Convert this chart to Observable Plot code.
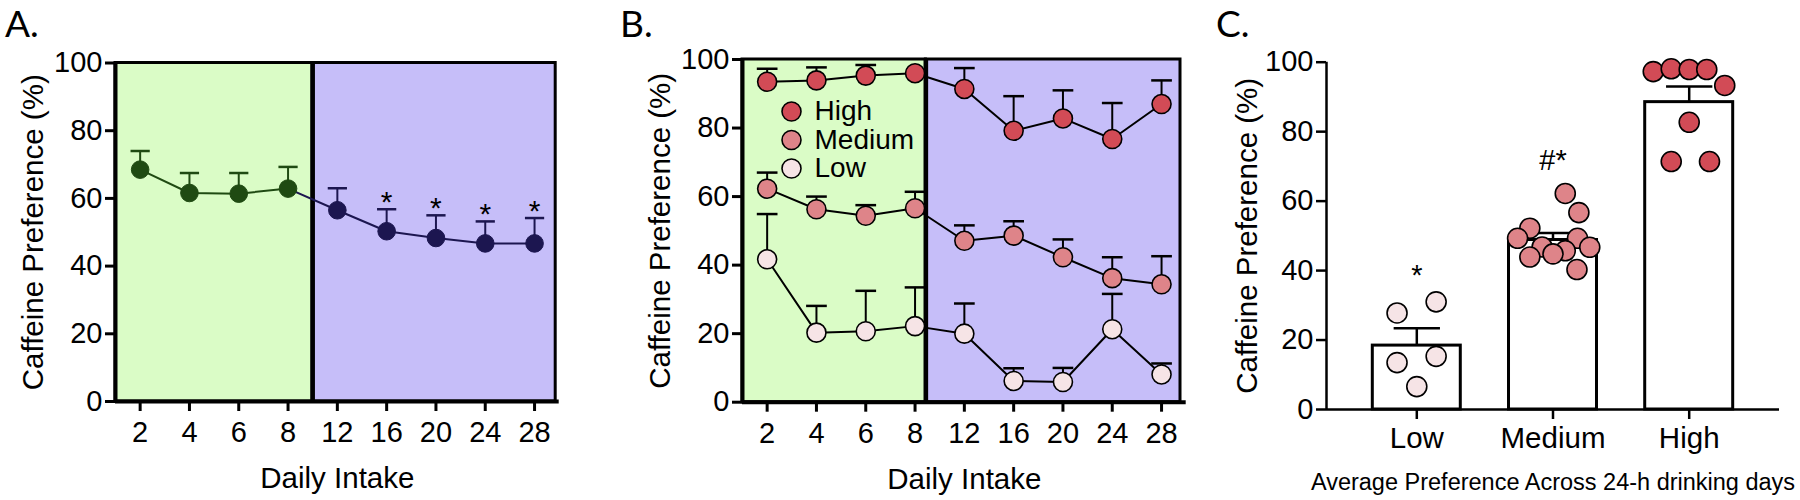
<!DOCTYPE html>
<html>
<head>
<meta charset="utf-8">
<script src="https://cdn.jsdelivr.net/npm/d3@7"></script>
<script src="https://cdn.jsdelivr.net/npm/@observablehq/plot@0.6"></script>
<style>
  html, body { margin: 0; padding: 0; background: #fff; }
  #wrap { position: relative; width: 1800px; height: 500px; overflow: hidden; background: #fff; }
  .panel { position: absolute; top: 0; width: 600px; height: 500px; }
  .panel svg { overflow: visible; }
  .tag { position: absolute; top: 4px; font-family: Lato, "Open Sans", sans-serif; font-size: 37px; line-height: 1; color: #000; }
</style>
</head>
<body>
<div id="wrap"></div>
<script>
// ---------------- data ----------------
const days = ["2", "4", "6", "8", "12", "16", "20", "24", "28"];
const yTicks = [0, 20, 40, 60, 80, 100];
const nAcq = 4; // first sessions (green background)

// Panel A: mean and top of SEM bar
const aMean = [68.5, 61.6, 61.4, 62.9, 56.5, 50.3, 48.3, 46.7, 46.7];
const aTop  = [74.0, 67.5, 67.5, 69.3, 63.0, 56.8, 55.0, 53.2, 54.2];
const aSig  = ["", "", "", "", "", "*", "*", "*", "*"];

// Panel B
const bGroups = ["High", "Medium", "Low"];
const bHigh    = [93.5, 93.9, 95.3, 96.0, 91.4, 79.2, 82.8, 76.8, 87.0];
const bHighTop = [97.3, 97.7, 98.4, null, 97.5, 89.3, 91.0, 87.3, 93.9];
const bMed     = [62.3, 56.3, 54.4, 56.6, 47.1, 48.6, 42.3, 36.2, 34.4];
const bMedTop  = [67.0, 60.0, 57.5, 61.4, 51.6, 52.8, 47.5, 42.3, 42.6];
const bLow     = [41.7, 20.3, 20.7, 22.2, 20.0, 6.2, 5.9, 21.3, 8.1];
const bLowTop  = [54.9, 28.1, 32.5, 33.5, 28.8, 9.9, 10.0, 31.6, 11.3];

// Panel C
const cGroups = ["Low", "Medium", "High"];
const cMean = [18.4, 48.8, 88.5];
const cTop  = [23.4, 50.8, 93.0];
const cNote = ["*", "#*", ""];
const cNoteBase = [35.8, 68.9, null];
const cLowVals  = [27.8, 31.0, 13.5, 15.3, 6.6];
const cLowOff   = [-0.145, 0.142, -0.145, 0.142, 0];
const cMedVals  = [62.2, 56.7, 52.2, 49.3, 49.3, 46.7, 46.8, 45.7, 44.8, 43.9, 40.3];
const cMedOff   = [0.09, 0.19, -0.17, -0.26, 0.18, 0.27, -0.08, 0.09, 0.0, -0.17, 0.176];
const cHighVals = [97.3, 98.1, 97.9, 97.9, 93.3, 82.7, 71.4, 71.4];
const cHighOff  = [-0.264, -0.132, 0, 0.129, 0.261, 0, -0.132, 0.149];

// ---------------- styles ----------------
const FONT = "'Liberation Sans', Arial, Helvetica, sans-serif";
const COL = {
  greenBg: "#dafcc6", purpleBg: "#c6bef9",
  green: "#1f4a12", navy: "#1c1650",
  High: "#d24b56", Medium: "#de8489", Low: "#f6e4e6"
};
const yLabel = "Caffeine Preference (%)";
const xLabel = "Daily Intake";
const cCaption = "Average Preference Across 24-h drinking days";

const idx = days.map((_, i) => i);
const xDom = [-0.5, days.length - 0.5];
const split = nAcq - 0.5;

function base(extra) {
  return Object.assign({
    width: 600, height: 500,
    style: {fontFamily: FONT, fontSize: "28px", background: "transparent", color: "#000", overflow: "visible"},
    color: {type: "identity"},
    y: {domain: [0, 100], axis: null},
  }, extra);
}

function backgroundMarks(shift, insetR) {
  const green = [{x1: xDom[0], x2: split + shift}];
  const purple = [{x1: split + shift, x2: xDom[1]}];
  return [
    Plot.rect(green, {x1: "x1", x2: "x2", y1: 0, y2: 100, fill: COL.greenBg, stroke: "black", strokeWidth: 3}),
    Plot.rect(purple, {x1: "x1", x2: "x2", y1: 0, y2: 100, fill: COL.purpleBg, stroke: "black", strokeWidth: 3, insetRight: insetR}),
    Plot.ruleX([split + shift], {y1: 0, y2: 100, stroke: "black", strokeWidth: 4.5})
  ];
}

function timeAxes(labelDx) {
  return [
    Plot.ruleX([xDom[0]], {y1: 0, y2: 100, stroke: "black", strokeWidth: 4}),
    Plot.ruleY([0], {stroke: "black", strokeWidth: 4}),
    Plot.axisY({ticks: yTicks, tickSize: 10, tickPadding: 3, strokeWidth: 3, label: null, fontSize: 29}),
    Plot.axisX({ticks: idx, tickFormat: i => days[i], tickSize: 10, tickPadding: 10, strokeWidth: 3, label: null, fontSize: 29}),
    Plot.text([yLabel], {frameAnchor: "left", rotate: -90, dx: -labelDx, fontSize: 29.5, textAnchor: "middle", lineAnchor: "middle"}),
    Plot.text([xLabel], {frameAnchor: "bottom", dy: 77, fontSize: 29.5, textAnchor: "middle", lineAnchor: "middle"})
  ];
}

// ---------------- Panel A ----------------
const dA = days.map((d, i) => ({i, mean: aMean[i], top: aTop[i], sig: aSig[i], col: i < nAcq ? COL.green : COL.navy}));
const capA = 0.195;
const chartA = Plot.plot(base({
  marginLeft: 115, marginRight: 41.3, marginTop: 62.5, marginBottom: 99,
  x: {domain: xDom, axis: null},
  marks: [
    ...backgroundMarks(0, 3.5),
    Plot.ruleX(dA, {x: "i", y1: "mean", y2: "top", stroke: "col", strokeWidth: 2}),
    Plot.link(dA, {x1: d => d.i - capA, x2: d => d.i + capA, y1: "top", y2: "top", stroke: "col", strokeWidth: 2.5}),
    Plot.line(dA.slice(0, nAcq), {x: "i", y: "mean", stroke: COL.green, strokeWidth: 2}),
    Plot.line(dA.slice(nAcq - 1), {x: "i", y: "mean", stroke: COL.navy, strokeWidth: 2}),
    Plot.dot(dA, {x: "i", y: "mean", r: 8.8, fill: "col", stroke: "col", strokeWidth: 1}),
    Plot.text(dA.filter(d => d.sig), {x: "i", y: "top", text: "sig", lineAnchor: "bottom", dy: 3, fontSize: 30}),
    ...timeAxes(82)
  ]
}));

// ---------------- Panel B ----------------
const bMeans = {High: bHigh, Medium: bMed, Low: bLow};
const bTops = {High: bHighTop, Medium: bMedTop, Low: bLowTop};
const dB = bGroups.flatMap(g => days.map((d, i) => ({g, i, mean: bMeans[g][i], top: bTops[g][i], col: COL[g]})));
const capB = 0.21;
const legendStep = 28.5;
const chartB = Plot.plot(base({
  marginLeft: 142, marginRight: 14.3, marginTop: 59, marginBottom: 98.3,
  x: {domain: xDom, axis: null},
  marks: [
    ...backgroundMarks(-0.28, 5.7),
    Plot.ruleX(dB.filter(d => d.top != null), {x: "i", y1: "mean", y2: "top", stroke: "black", strokeWidth: 2}),
    Plot.link(dB.filter(d => d.top != null), {x1: d => d.i - capB, x2: d => d.i + capB, y1: "top", y2: "top", stroke: "black", strokeWidth: 2.5}),
    Plot.line(dB, {x: "i", y: "mean", z: "g", stroke: "black", strokeWidth: 2}),
    Plot.dot(dB, {x: "i", y: "mean", r: 9.5, fill: "col", stroke: "black", strokeWidth: 1.6}),
    ...bGroups.map((g, k) => Plot.dot([g], {frameAnchor: "top-left", dx: 49, dy: 52 + k * legendStep, r: 9.5, fill: COL[g], stroke: "black", strokeWidth: 1.6})),
    ...bGroups.map((g, k) => Plot.text([g], {frameAnchor: "top-left", dx: 72, dy: 52 + k * legendStep, text: d => d, textAnchor: "start", lineAnchor: "middle", fontSize: 28})),
    ...timeAxes(82)
  ]
}));

// ---------------- Panel C ----------------
const cIdx = cGroups.map((_, i) => i);
const cBars = cGroups.map((g, i) => ({i, g, mean: cMean[i], top: cTop[i], note: cNote[i], noteY: cNoteBase[i]}));
const cDots = [
  ...cLowVals.map((v, k) => ({i: 0, off: cLowOff[k], v, col: COL.Low})),
  ...cMedVals.map((v, k) => ({i: 1, off: cMedOff[k], v, col: COL.Medium})),
  ...cHighVals.map((v, k) => ({i: 2, off: cHighOff[k], v, col: COL.High}))
];
const cDom = [-0.663, cGroups.length - 1 + 0.663];
const barHalf = 0.323, capC = 0.17;
const chartC = Plot.plot(base({
  marginLeft: 126, marginRight: 21, marginTop: 61.7, marginBottom: 91,
  x: {domain: cDom, axis: null},
  marks: [
    Plot.rect(cBars, {x1: d => d.i - barHalf, x2: d => d.i + barHalf, y1: 0, y2: "mean", fill: "white", stroke: "black", strokeWidth: 3}),
    Plot.ruleX(cBars, {x: "i", y1: "mean", y2: "top", stroke: "black", strokeWidth: 2.5}),
    Plot.link(cBars, {x1: d => d.i - capC, x2: d => d.i + capC, y1: "top", y2: "top", stroke: "black", strokeWidth: 2.5}),
    Plot.dot(cDots, {x: d => d.i + d.off, y: "v", r: 10, fill: "col", stroke: "black", strokeWidth: 1.6}),
    Plot.text(cBars.filter(d => d.note), {x: "i", y: "noteY", text: "note", lineAnchor: "bottom", fontSize: 29}),
    Plot.ruleX([cDom[0]], {y1: 0, y2: 100, stroke: "black", strokeWidth: 2.5}),
    Plot.ruleY([0], {stroke: "black", strokeWidth: 2.5}),
    Plot.axisY({ticks: yTicks, tickSize: 10, tickPadding: 3, strokeWidth: 2.5, label: null, fontSize: 29}),
    Plot.axisX({ticks: cIdx, tickFormat: i => cGroups[i], tickSize: 10, tickPadding: 8, strokeWidth: 2.5, label: null, fontSize: 29.5}),
    Plot.text([yLabel], {frameAnchor: "left", rotate: -90, dx: -79, fontSize: 29.5, textAnchor: "middle", lineAnchor: "middle"}),
    Plot.text([cCaption], {frameAnchor: "bottom", dy: 72.7, fontSize: 23.5, textAnchor: "middle", lineAnchor: "middle"})
  ]
}));

// ---------------- layout ----------------
const wrap = document.getElementById("wrap");
const panels = [chartA, chartB, chartC];
const tags = ["A.", "B.", "C."];
const tagLeft = [5, 620, 1216];
panels.forEach((chart, k) => {
  const div = document.createElement("div");
  div.className = "panel";
  div.style.left = (k * 600) + "px";
  div.appendChild(chart);
  wrap.appendChild(div);
  const t = document.createElement("div");
  t.className = "tag";
  t.style.left = tagLeft[k] + "px";
  t.textContent = tags[k];
  wrap.appendChild(t);
});
</script>
</body>
</html>
